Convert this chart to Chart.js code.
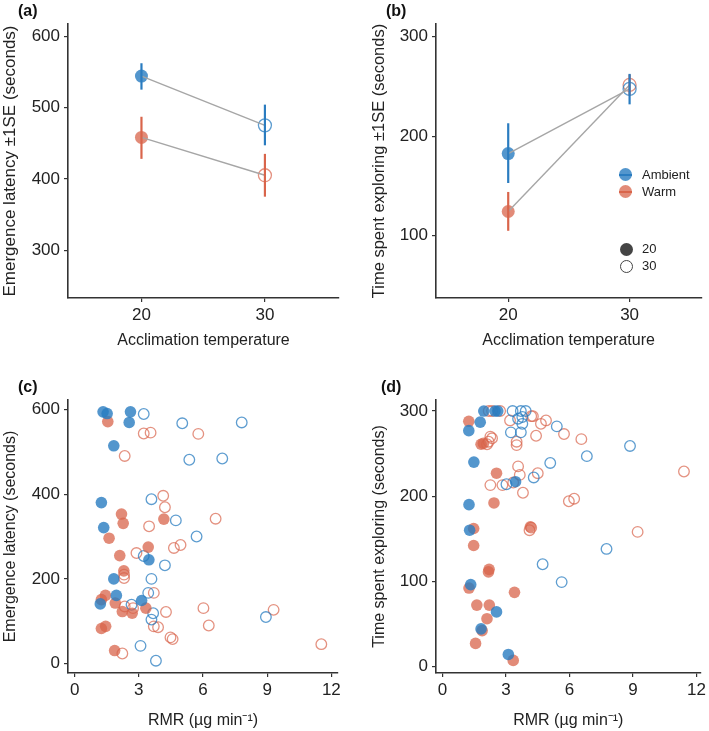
<!DOCTYPE html>
<html>
<head>
<meta charset="utf-8">
<script src="https://cdn.jsdelivr.net/npm/chart.js@4.4.1/dist/chart.umd.min.js"></script>
<style>
body { margin: 0; background: #fff; font-family: "Liberation Sans", Arial, sans-serif; }
#wrap { position: relative; width: 709px; height: 731px; }
.panel { position: absolute; }
.lab { position: absolute; font-weight: bold; font-size: 16px; color: #111; line-height: 16px; }
.leg { position: absolute; font-size: 13px; color: #222; line-height: 14px; }
.key { position: absolute; width: 13px; height: 13px; border-radius: 50%; box-sizing: border-box; }
.bar { position: absolute; width: 13px; height: 2px; }
</style>
</head>
<body>
<div id="wrap">
  <canvas id="pa" class="panel" width="354" height="360" style="left:0;top:0"></canvas>
  <canvas id="pb" class="panel" width="355" height="360" style="left:354px;top:0"></canvas>
  <canvas id="pc" class="panel" width="354" height="371" style="left:0;top:360px"></canvas>
  <canvas id="pd" class="panel" width="355" height="371" style="left:354px;top:360px"></canvas>

  <div class="lab" style="left:18px;top:3px">(a)</div>
  <div class="lab" style="left:386px;top:3px">(b)</div>
  <div class="lab" style="left:18px;top:379px">(c)</div>
  <div class="lab" style="left:381px;top:379px">(d)</div>

  <!-- legend in (b) -->
  <div class="key" style="left:619px;top:168px;background:rgba(40,124,192,0.8)"></div>
  <div class="bar" style="left:619px;top:174px;background:#2a7cc0"></div>
  <div class="leg" style="left:642px;top:168px">Ambient</div>
  <div class="key" style="left:619px;top:185px;background:rgba(216,100,75,0.75)"></div>
  <div class="bar" style="left:619px;top:191px;background:#d9654b"></div>
  <div class="leg" style="left:642px;top:185px">Warm</div>
  <div class="key" style="left:620px;top:243px;background:#444"></div>
  <div class="leg" style="left:642px;top:242px">20</div>
  <div class="key" style="left:620px;top:260px;border:1.2px solid #444"></div>
  <div class="leg" style="left:642px;top:259px">30</div>
</div>

<script>
// acclimation temperatures (panels a, b)
const tempLevels = [20, 30];

// (a) emergence latency, mean and ±1SE
const latAmbMean = [544, 475];
const latAmbLo = [525, 447];
const latAmbHi = [562, 504];
const latWarmMean = [458, 405];
const latWarmLo = [428, 375];
const latWarmHi = [487, 435];

// (b) time spent exploring, mean and ±1SE
const expAmbMean = [182.6, 247.5];
const expAmbLo = [153, 232];
const expAmbHi = [213, 262.6];
const expWarmMean = [124.4, 251.5];
const expWarmLo = [105, 241];
const expWarmHi = [144, 262];

// (c) RMR vs emergence latency
const cAmb20X = [1.33, 1.52, 2.61, 2.55, 1.83, 1.25, 1.36, 1.83, 1.95, 1.2, 3.13, 3.47];
const cAmb20Y = [594, 590, 594, 569, 514, 380, 321, 200, 161, 141, 149, 245];
const cWarm20X = [1.55, 2.19, 2.27, 1.61, 2.11, 3.44, 4.17, 2.3, 1.44, 1.25, 1.9, 2.23, 2.69, 3.33, 1.25, 1.45, 1.87];
const cWarm20Y = [571, 353, 331, 296, 255, 275, 341, 219, 161, 151, 143, 123, 119, 131, 83, 88, 31];
const cAmb30X = [3.23, 5.03, 7.81, 5.36, 6.9, 3.59, 4.73, 5.7, 3.23, 4.22, 3.59, 3.44, 2.66, 3.67, 3.59, 8.94, 3.08, 3.8];
const cAmb30Y = [589, 567, 569, 481, 484, 388, 338, 300, 254, 232, 200, 167, 139, 119, 104, 110, 42, 7];
const cWarm30X = [3.23, 3.55, 5.78, 2.34, 4.14, 4.22, 6.59, 3.48, 4.95, 4.64, 2.89, 2.31, 2.31, 3.7, 2.34, 2.73, 4.27, 6.02, 9.3, 3.7, 3.9, 6.27, 4.48, 4.58, 2.23, 11.53];
const cWarm30Y = [543, 545, 542, 490, 396, 369, 342, 324, 280, 273, 261, 210, 202, 167, 135, 131, 122, 131, 127, 88, 86, 90, 62, 58, 24, 46];

// (d) RMR vs time spent exploring
const dAmb20X = [1.95, 2.48, 2.61, 1.78, 1.24, 1.48, 3.45, 1.25, 1.28, 1.33, 2.55, 1.82, 3.11];
const dAmb20Y = [300, 300, 300, 287, 277, 240, 217, 190, 160, 96, 64, 44, 14];
const dWarm20X = [1.24, 1.82, 1.93, 2.55, 2.43, 1.47, 4.15, 1.47, 2.2, 2.17, 1.25, 3.4, 1.62, 2.21, 2.1, 1.87, 1.56, 3.34];
const dWarm20Y = [288, 261, 262, 227, 192, 162, 164, 142, 114, 111, 92, 87, 72, 72, 56, 42, 27, 7];
const dAmb30X = [3.31, 3.7, 3.93, 3.77, 3.57, 3.77, 3.23, 3.7, 5.09, 4.31, 3.02, 5.4, 8.86, 6.82, 7.75, 5.63, 4.73];
const dAmb30Y = [300, 300, 300, 293, 291, 285, 275, 275, 239, 222, 214, 282, 259, 247, 138, 99, 120];
const dWarm30X = [2.18, 2.34, 2.72, 3.19, 4.19, 4.27, 4.65, 4.89, 4.42, 2.26, 2.34, 2.18, 2.1, 3.5, 3.5, 3.57, 3.65, 4.5, 2.26, 3.34, 3.8, 4.19, 4.11, 5.74, 6.56, 11.41, 5.97, 6.22, 9.22, 2.83];
const dWarm30Y = [300, 300, 300, 289, 294, 294, 285, 289, 271, 270, 268, 264, 261, 264, 260, 235, 225, 227, 213, 216, 204, 163, 160, 273, 267, 229, 194, 197, 158, 213];

// tick labels
const tempTicks = [20, 30];
const latMeanTicks = [300, 400, 500, 600];
const expMeanTicks = [100, 200, 300];
const rmrTicks = [0, 3, 6, 9, 12];
const latTicks = [0, 200, 400, 600];
const expTicks = [0, 100, 200, 300];

const FONT = "'Liberation Sans', Arial, sans-serif";
const AX = '#333';
const TXT = '#222';
const BLUE_FILL = 'rgba(40,124,192,0.8)';
const RED_FILL = 'rgba(216,100,75,0.75)';
const BLUE_LINE = 'rgba(40,124,192,0.75)';
const RED_LINE = 'rgba(216,100,75,0.7)';
const BLUE_BAR = '#2a7cc0';
const RED_BAR = '#d9654b';

Chart.defaults.animation = false;
Chart.defaults.plugins.legend.display = false;
Chart.defaults.plugins.tooltip.enabled = false;

function pts(xs, ys) { return xs.map((x, i) => ({ x: x, y: ys[i] })); }

function filled(data, color, r) {
  return { data: data, pointRadius: r, pointBackgroundColor: color, pointBorderWidth: 0, showLine: false };
}
function open(data, color, r) {
  return { data: data, pointRadius: r, pointBackgroundColor: 'rgba(0,0,0,0)', pointBorderColor: color, pointBorderWidth: 1.3, showLine: false };
}
function seBars(xs, lo, hi, color) {
  return xs.map((x, i) => ({
    data: [{ x: x, y: lo[i] }, { x: x, y: hi[i] }],
    showLine: true, borderColor: color, borderWidth: 2.2, pointRadius: 0
  }));
}
function meanLine(xs, ys) {
  return { data: pts(xs, ys), showLine: true, borderColor: '#a6a6a6', borderWidth: 1.4, pointRadius: 0 };
}

function axes(c) {
  return {
    x: {
      type: 'linear', min: c.xmin, max: c.xmax,
      afterBuildTicks: s => { s.ticks = c.xticks.map(v => ({ value: v })); },
      afterFit: s => { s.height = c.xh; },
      grid: { drawOnChartArea: false, drawTicks: true, tickLength: 4, color: AX, lineWidth: 1.2 },
      border: { display: true, color: AX, width: 1.6 },
      ticks: { font: { size: 17, family: FONT }, color: TXT, padding: 3, maxRotation: 0 },
      title: { display: true, text: c.xtitle, font: { size: 16, family: FONT }, color: TXT, padding: { top: 0, bottom: c.xtp } }
    },
    y: {
      type: 'linear', min: c.ymin, max: c.ymax,
      afterBuildTicks: s => { s.ticks = c.yticks.map(v => ({ value: v })); },
      afterFit: s => { s.width = c.yw; },
      grid: { drawOnChartArea: false, drawTicks: true, tickLength: 4, color: AX, lineWidth: 1.2 },
      border: { display: true, color: AX, width: 1.6 },
      ticks: { font: { size: 17, family: FONT }, color: TXT, padding: 4 },
      title: { display: true, text: c.ytitle, font: { size: c.yfs, family: FONT }, color: TXT, padding: { top: c.ytp, bottom: 0 } }
    }
  };
}

function make(id, datasets, c) {
  new Chart(document.getElementById(id), {
    type: 'scatter',
    data: { datasets: datasets },
    options: {
      responsive: false,
      devicePixelRatio: 1,
      clip: false,
      layout: { padding: { left: 0, top: c.pt, right: c.pr, bottom: 0 } },
      scales: axes(c)
    }
  });
}

// (a)
make('pa', [
  ...seBars(tempLevels, latAmbLo, latAmbHi, BLUE_BAR),
  ...seBars(tempLevels, latWarmLo, latWarmHi, RED_BAR),
  meanLine(tempLevels, latAmbMean),
  meanLine(tempLevels, latWarmMean),
  filled([{ x: tempLevels[0], y: latAmbMean[0] }], BLUE_FILL, 6.5),
  open([{ x: tempLevels[1], y: latAmbMean[1] }], BLUE_LINE, 6.5),
  filled([{ x: tempLevels[0], y: latWarmMean[0] }], RED_FILL, 6.5),
  open([{ x: tempLevels[1], y: latWarmMean[1] }], RED_LINE, 6.5)
], { xmin: 14.05, xmax: 36, xticks: tempTicks, ymin: 233, ymax: 617, yticks: latMeanTicks,
     xtitle: 'Acclimation temperature', ytitle: 'Emergence latency \u00b11SE (seconds)',
     yw: 68, xh: 62, pt: 24, pr: 15, xtp: 10, ytp: 0, yfs: 17 });

// (b)
make('pb', [
  ...seBars(tempLevels, expAmbLo, expAmbHi, BLUE_BAR),
  ...seBars(tempLevels, expWarmLo, expWarmHi, RED_BAR),
  meanLine(tempLevels, expAmbMean),
  meanLine(tempLevels, expWarmMean),
  filled([{ x: tempLevels[0], y: expAmbMean[0] }], BLUE_FILL, 6.5),
  open([{ x: tempLevels[1], y: expAmbMean[1] }], BLUE_LINE, 6.5),
  filled([{ x: tempLevels[0], y: expWarmMean[0] }], RED_FILL, 6.5),
  open([{ x: tempLevels[1], y: expWarmMean[1] }], RED_LINE, 6.5)
], { xmin: 14.05, xmax: 35.9, xticks: tempTicks, ymin: 37.5, ymax: 312.7, yticks: expMeanTicks,
     xtitle: 'Acclimation temperature', ytitle: 'Time spent exploring \u00b11SE (seconds)',
     yw: 82, xh: 62, pt: 24, pr: 3, xtp: 10, ytp: 16, yfs: 16.5 });

// (c)
make('pc', [
  filled(pts(cAmb20X, cAmb20Y), BLUE_FILL, 5.8),
  filled(pts(cWarm20X, cWarm20Y), RED_FILL, 5.8),
  open(pts(cAmb30X, cAmb30Y), BLUE_LINE, 5.3),
  open(pts(cWarm30X, cWarm30Y), RED_LINE, 5.3)
], { xmin: -0.31, xmax: 12.31, xticks: rmrTicks, ymin: -22, ymax: 622, yticks: latTicks,
     xtitle: 'RMR (\u00b5g min\u207b\u00b9)', ytitle: 'Emergence latency (seconds)',
     yw: 68, xh: 58, pt: 40, pr: 16, xtp: 1, ytp: 1, yfs: 16 });

// (d)
make('pd', [
  filled(pts(dAmb20X, dAmb20Y), BLUE_FILL, 5.8),
  filled(pts(dWarm20X, dWarm20Y), RED_FILL, 5.8),
  open(pts(dAmb30X, dAmb30Y), BLUE_LINE, 5.3),
  open(pts(dWarm30X, dWarm30Y), RED_LINE, 5.3)
], { xmin: -0.31, xmax: 12.2, xticks: rmrTicks, ymin: -7.8, ymax: 313, yticks: expTicks,
     xtitle: 'RMR (\u00b5g min\u207b\u00b9)', ytitle: 'Time spent exploring (seconds)',
     yw: 82, xh: 58, pt: 40, pr: 3, xtp: 1, ytp: 16, yfs: 16 });
</script>
</body>
</html>
